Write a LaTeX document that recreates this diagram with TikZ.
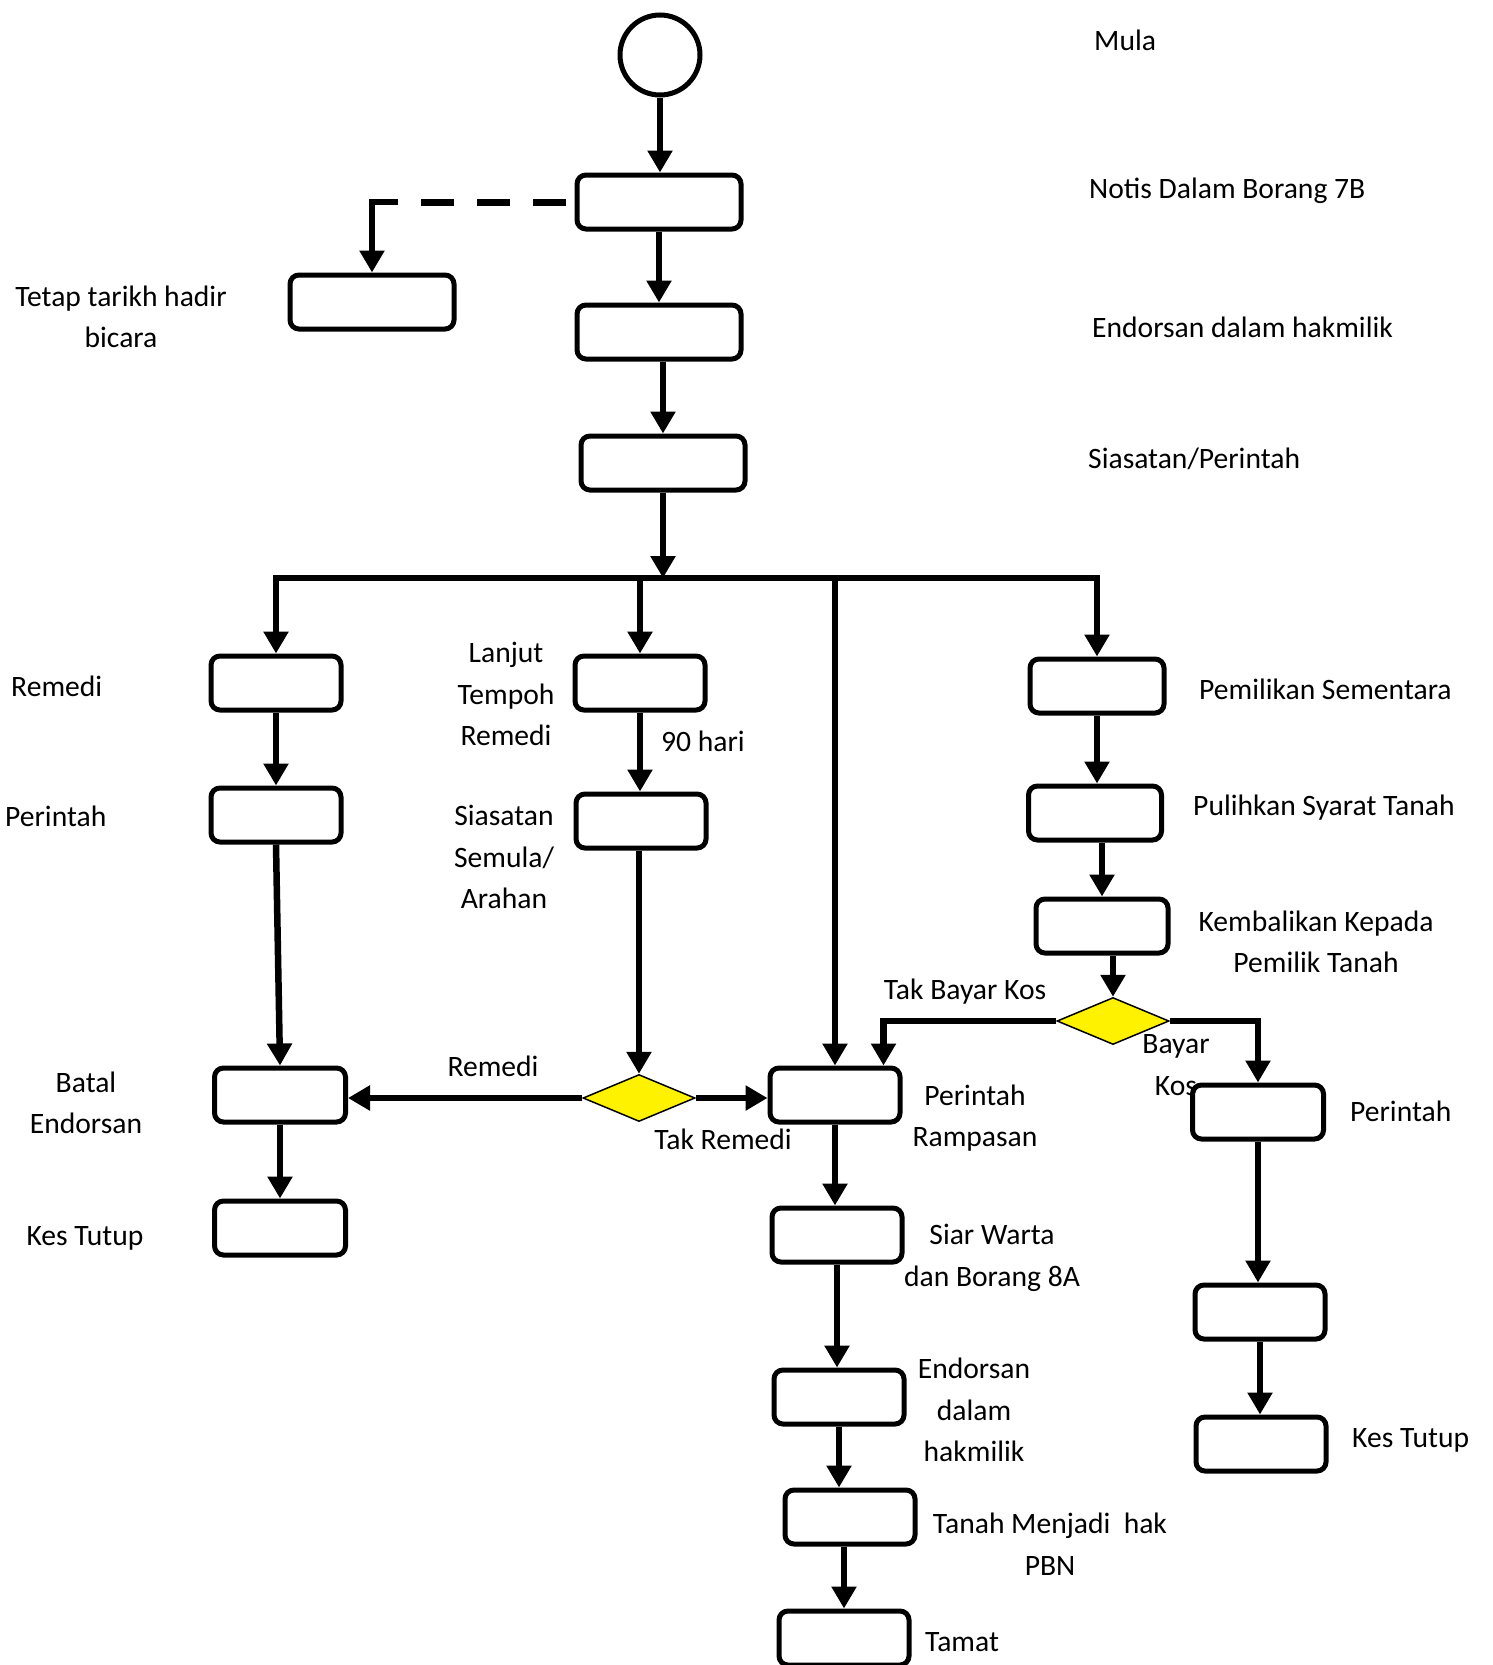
\documentclass[tikz,border=0pt]{standalone}
\usepackage{fontspec}
\setmainfont{Carlito}
\usetikzlibrary{arrows.meta,shapes.geometric}
\definecolor{dy}{HTML}{FFF200}
\begin{document}
\begin{tikzpicture}[x=1pt,y=-1pt,
  box/.style={draw, line width=5pt, rounded corners=9pt, minimum width=130pt, minimum height=54pt, inner sep=0pt, fill=white},
  arr/.style={line width=6.5pt, -{Triangle[width=24pt,length=22pt]}},
  ln/.style={line width=6.5pt},
  dashln/.style={line width=7pt, dash pattern=on 33pt off 23pt, dash phase=47pt},
  dec/.style={diamond, draw, line width=1.5pt, fill=dy, aspect=2.4, minimum width=112pt, minimum height=47pt, inner sep=0pt},
  lbl/.style={font=\fontsize{29.6}{41.5}\selectfont, align=center, inner sep=0pt}]
\useasboundingbox (0,0) rectangle (1492,1665);

% nodes
\node[circle, draw, line width=5pt, minimum size=80pt, inner sep=0pt] (start) at (660,55) {};
\node[box, minimum width=164pt] (notis) at (659,202) {};
\node[box, minimum width=164pt] (tetap) at (372,302) {};
\node[box, minimum width=164pt] (endo) at (659,332) {};
\node[box, minimum width=164pt] (sias) at (663,463) {};
\node[box] (remedi) at (276,683) {};
\node[box] (lanjut) at (640,683) {};
\node[box, minimum width=134pt] (pemilik) at (1097,686) {};
\node[box] (perL) at (276,815) {};
\node[box] (semula) at (641,821) {};
\node[box, minimum width=133pt] (pulih) at (1095,813) {};
\node[box, minimum width=132pt] (kembali) at (1102,926) {};
\node[dec] (dR) at (1113,1021) {};
\node[box, minimum width=131pt] (batal) at (280,1095) {};
\node[box, minimum width=131pt] (tutupL) at (280,1228) {};
\node[dec] (dL) at (639,1098) {};
\node[box] (ramp) at (835,1095) {};
\node[box, minimum width=131pt] (perR) at (1258,1112) {};
\node[box] (blankR) at (1260,1312) {};
\node[box] (tutupR) at (1261,1444) {};
\node[box] (siar) at (837,1235) {};
\node[box] (endB) at (839,1397) {};
\node[box] (tanah) at (850,1517) {};
\node[box] (tamat) at (844,1638) {};

\coordinate (c1) at (398,202);
\coordinate (bus) at (663,578);

% connectors
\draw[arr] (start.south) -- (start.south |- notis.north);
\draw[dashln] (notis.west) -- (c1);
\draw[arr] (c1) -| (tetap.north);
\draw[arr] (notis.south) -- (notis.south |- endo.north);
\draw[arr] (endo.south -| sias.north) -- (sias.north);
\draw[arr] (sias.south) -- (bus);
\draw[arr] (bus) -| (remedi.north);
\draw[arr] (bus) -| (pemilik.north);
\draw[arr] (bus -| lanjut.north) -- (lanjut.north);
\draw[arr] (bus -| ramp.north) -- (ramp.north);

\draw[arr] (remedi.south) -- (remedi.south |- perL.north);
\draw[arr] (perL.south) -- (batal.north);
\draw[arr] (batal.south) -- (batal.south |- tutupL.north);

\draw[arr] (lanjut.south) -- (lanjut.south |- semula.north);
\draw[arr] (semula.south -| dL.north) -- (dL.north);
\draw[arr] (dL.west) -- (dL.west -| batal.east);
\draw[arr] (dL.east) -- (dL.east -| ramp.west);

\draw[arr] (pemilik.south) -- (pemilik.south |- pulih.north);
\draw[arr] (pulih.south -| kembali.north) -- (kembali.north);
\draw[arr] (kembali.south -| dR.north) -- (dR.north);
\draw[arr] (dR.west) -| ([xshift=-19pt]ramp.north east);
\draw[arr] (dR.east) -| (perR.north);
\draw[arr] (perR.south) -- (perR.south |- blankR.north);
\draw[arr] (blankR.south) -- (blankR.south |- tutupR.north);

\draw[arr] (ramp.south) -- (ramp.south |- siar.north);
\draw[arr] (siar.south) -- (siar.south |- endB.north);
\draw[arr] (endB.south) -- (endB.south |- tanah.north);
\draw[arr] (tanah.south -| tamat.north) -- (tamat.north);

% labels
\node[lbl, anchor=west] (tMula) at (1094,40) {Mula};
\node[lbl, anchor=west] (tNotis) at (1089,191) {Notis Dalam Borang 7B};
\node[lbl, anchor=west] (tEndo) at (1092,327) {Endorsan dalam hakmilik};
\node[lbl, anchor=west] (tSias) at (1088,459) {Siasatan/Perintah};
\node[lbl] (tTetap) at (121,317) {Tetap tarikh hadir\\bicara};
\node[lbl, anchor=west] (tRemedi) at (11,686) {Remedi};
\node[lbl, anchor=west] (tPerL) at (5,816) {Perintah};
\node[lbl] (tLanjut) at (506,694) {Lanjut\\Tempoh\\Remedi};
\node[lbl] (tSemula) at (504,857) {Siasatan\\Semula/\\Arahan};
\node[lbl, anchor=west] (t90) at (661,741) {90 hari};
\node[lbl, anchor=west] (tPemilik) at (1199,689) {Pemilikan Sementara};
\node[lbl, anchor=west] (tPulih) at (1193,808) {Pulihkan Syarat Tanah};
\node[lbl] (tKembali) at (1316,942) {Kembalikan Kepada\\Pemilik Tanah};
\node[lbl] (tTBK) at (965,992) {Tak Bayar Kos};
\node[lbl] (tBK) at (1176,1065) {Bayar\\Kos};
\node[lbl, anchor=west] (tPerR) at (1350,1111) {Perintah};
\node[lbl] (tBatal) at (86,1103) {Batal\\Endorsan};
\node[lbl] (tRem2) at (493,1066) {Remedi};
\node[lbl] (tTakRem) at (723,1139) {Tak Remedi};
\node[lbl] (tRamp) at (975,1118) {Perintah\\Rampasan};
\node[lbl] (tTutupL) at (85,1238) {Kes Tutup};
\node[lbl] (tSiar) at (992,1258) {Siar Warta\\dan Borang 8A};
\node[lbl] (tEndB) at (974,1410) {Endorsan\\dalam\\hakmilik};
\node[lbl, anchor=west] (tTutupR) at (1352,1440) {Kes Tutup};
\node[lbl] (tTanah) at (1050,1544) {Tanah Menjadi\ \ hak\\PBN};
\node[lbl, anchor=west] (tTamat) at (925,1642) {Tamat};
\end{tikzpicture}
\end{document}
